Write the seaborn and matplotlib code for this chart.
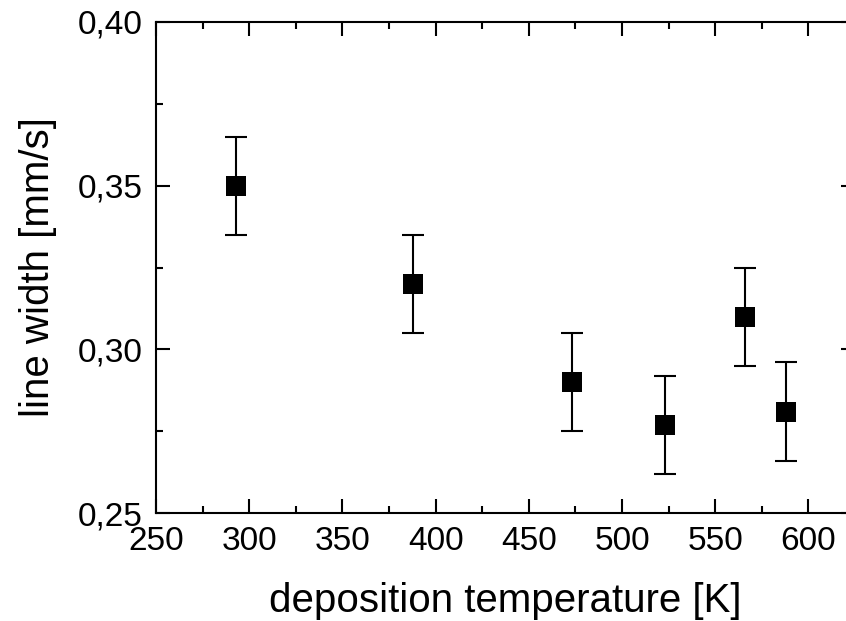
import matplotlib
matplotlib.use("Agg")
import matplotlib.pyplot as plt
import seaborn as sns
import pandas as pd
from matplotlib.ticker import MultipleLocator, FuncFormatter

temperature = [293, 388, 473, 523, 566, 588]
line_width = [0.350, 0.320, 0.290, 0.277, 0.310, 0.281]
error = [0.015, 0.015, 0.015, 0.015, 0.015, 0.015]

df = pd.DataFrame({"T": temperature, "w": line_width, "err": error})

sns.set_style("ticks")
plt.rcParams['font.family'] = ['Liberation Sans', 'DejaVu Sans']
plt.rcParams['text.color'] = 'black'
plt.rcParams['axes.labelcolor'] = 'black'
plt.rcParams['xtick.color'] = 'black'
plt.rcParams['ytick.color'] = 'black'

fig = plt.figure(figsize=(8.46, 6.21), dpi=100)
ax = fig.add_axes([156/846, 108/621, 699/846, 491/621])

ax.errorbar(df["T"], df["w"], yerr=df["err"], fmt='none', ecolor='black',
            elinewidth=1.5, capsize=7.8, capthick=1.5, zorder=2)
sns.scatterplot(data=df, x="T", y="w", marker='s', s=220, color='black',
                edgecolor='black', linewidth=0, ax=ax, zorder=3)

ax.set_xlim(250, 625)
ax.set_ylim(0.25, 0.40)
ax.xaxis.set_major_locator(MultipleLocator(50))
ax.xaxis.set_minor_locator(MultipleLocator(25))
ax.yaxis.set_major_locator(MultipleLocator(0.05))
ax.yaxis.set_minor_locator(MultipleLocator(0.025))
ax.yaxis.set_major_formatter(FuncFormatter(lambda v, p: f"{v:.2f}".replace('.', ',')))

for s in ax.spines.values():
    s.set_visible(True)
    s.set_linewidth(1.5)
    s.set_color('black')

ax.tick_params(which='both', direction='in', top=True, right=True, color='black', width=1.5)
ax.tick_params(which='major', length=10, labelsize=24, labelcolor='black')
ax.tick_params(axis='y', which='major', pad=9.5)
ax.tick_params(axis='x', which='major', pad=9)
ax.tick_params(which='minor', length=5)

ax.set_xlabel("deposition temperature [K]", fontsize=29, labelpad=18, color='black')
ax.set_ylabel("line width [mm/s]", fontsize=29, labelpad=15, color='black')

fig.savefig("out.png", dpi=100)
